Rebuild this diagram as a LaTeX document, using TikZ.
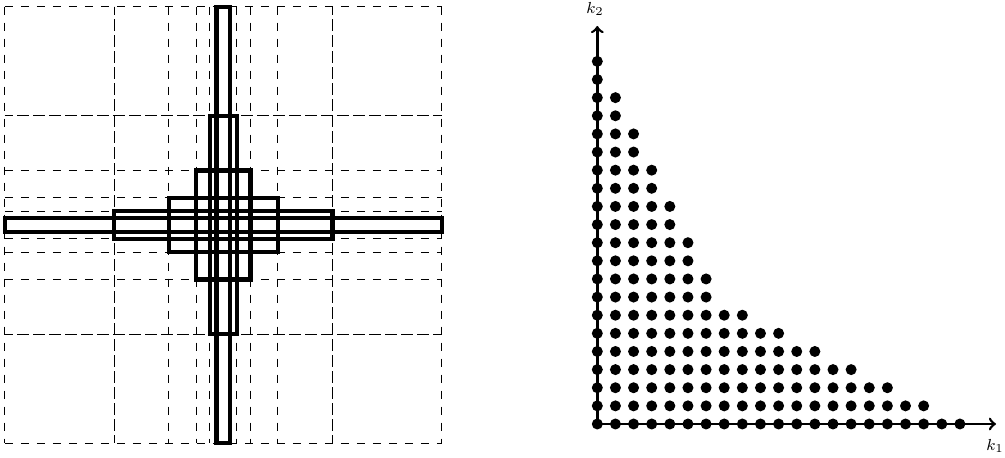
\documentclass[tikz,border=0pt]{standalone}
\usepackage{fix-cm}
\begin{document}
\begin{tikzpicture}[x=0.5pt,y=-0.5pt,
  gridline/.style={line width=0.5pt,dash pattern=on 4pt off 4pt},
  gridshift/.style={line width=0.5pt,dash pattern=on 4pt off 4pt,dash phase=1.8pt},
  band/.style={line width=2.1pt},
  axisline/.style={line width=1.3pt,->},
  lattice/.style={fill=black},
  axlabel/.style={inner sep=0pt,font=\fontsize{8pt}{9.5pt}\selectfont}]
\useasboundingbox (0,0) rectangle (1005,458);
% ---------- left panel ----------
\def\cx{223.3}\def\cy{225}\def\W{436.7}
\foreach \f in {-0.5,-0.25,-0.125,-0.0625,-0.03125,0.03125,0.0625,0.125,0.25,0.5}{
  \draw[gridline] ({\cx+(\f)*\W},{\cy-0.5*\W}) -- ({\cx+(\f)*\W},{\cy+0.5*\W});
  \draw[gridline] ({\cx-0.5*\W},{\cy+(\f)*\W}) -- ({\cx+0.5*\W},{\cy+(\f)*\W});
}
\foreach \f in {-0.25,0.25}{
  \draw[gridshift] ({\cx+(\f)*\W},{\cy-0.5*\W}) -- ({\cx+(\f)*\W},{\cy+0.5*\W});
  \draw[gridshift] ({\cx-0.5*\W},{\cy+(\f)*\W}) -- ({\cx+0.5*\W},{\cy+(\f)*\W});
}
\foreach \a/\b in {0.015625/0.5,0.03125/0.25,0.0625/0.125,0.125/0.0625,0.25/0.03125,0.5/0.015625}{
  \draw[band] ({\cx-\a*\W},{\cy-\b*\W}) rectangle ({\cx+\a*\W},{\cy+\b*\W});
}
% ---------- right panel ----------
\def\ox{597.3}\def\oy{424}\def\s{18.13}
\coordinate (O) at (\ox,\oy);
\coordinate (Xend) at (996,\oy);
\coordinate (Yend) at (\ox,26);
\draw[axisline] (O) -- (Xend);
\draw[axisline] (O) -- (Yend);
\node[axlabel] (k1) at (995,446) {$k_1$};
\node[axlabel] (k2) at (595,9) {$k_2$};
\foreach \j/\m in {0/20,1/18,2/16,3/14,4/12,5/10,6/8,7/6,8/6,9/5,10/5,11/4,12/4,13/3,14/3,15/2,16/2,17/1,18/1,19/0,20/0}{
  \foreach \i in {0,...,\m}{
    \fill[lattice] ({\ox+\i*\s},{\oy-\j*\s}) circle[radius=2.75pt];
  }
}
\end{tikzpicture}
\end{document}
